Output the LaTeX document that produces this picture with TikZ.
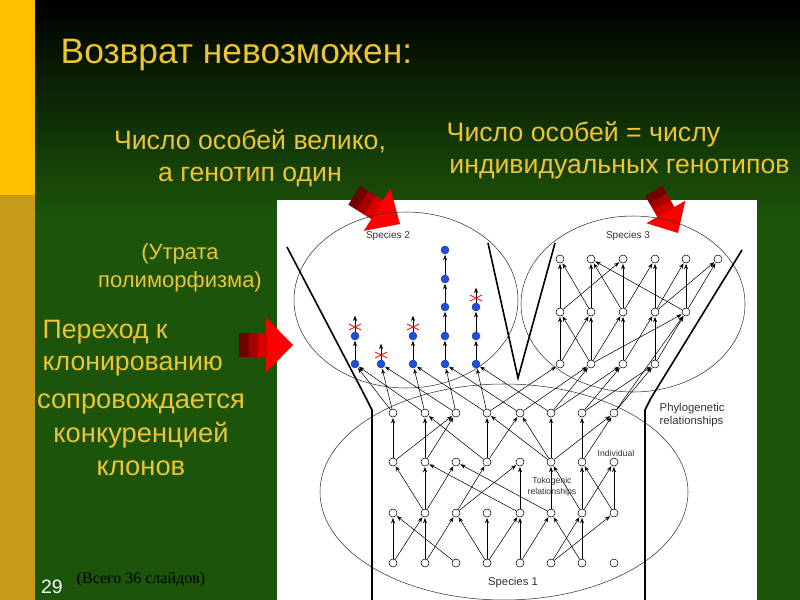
\documentclass[tikz,border=0pt]{standalone}
\usepackage{fontspec}
\setmainfont{Liberation Sans}
\newfontfamily\serifr{Liberation Serif}
\usetikzlibrary{arrows.meta}
\definecolor{ylw}{RGB}{236,196,52}
\definecolor{grn}{RGB}{28,84,10}
\definecolor{strip}{RGB}{255,192,0}
\definecolor{gold}{RGB}{200,155,25}
\definecolor{blu}{RGB}{30,80,220}
\tikzset{
 ind/.style={circle,draw=black,line width=0.4pt,fill=white,inner sep=0pt,minimum size=6pt},
 bind/.style={circle,draw=blu!60!black,line width=0.3pt,fill=blu,inner sep=0pt,minimum size=6pt},
 ed/.style={-{Stealth[length=4pt,width=3pt]},line width=0.4pt,shorten >=0.5pt},
 thick line/.style={line width=1.2pt},
 slide/.style={text=ylw,font=\fontsize{20}{24}\selectfont,align=center},
 lab/.style={font=\fontsize{7.5}{9}\selectfont,text=black!80},
 xm/.style={red,line width=0.6pt}
}
\newcommand{\redarrow}{%
 \fill[red] (0,0) -- (27,-25) -- (27,25) -- cycle;
 \fill[red!85!black] (26.5,-11) rectangle (36,11);
 \fill[red!65!black] (35.5,-11) rectangle (45,11);
 \fill[red!45!black] (44.5,-11) rectangle (54,11);
}
\begin{document}
\begin{tikzpicture}[x=0.75pt,y=-0.75pt]
\useasboundingbox (0,0) rectangle (800,600);
% background
\fill[grn] (0,0) rectangle (800,600);
\shade[top color=black,bottom color=grn] (35,0) rectangle (800,215);
\fill[strip] (0,0) rectangle (35,195);
\fill[gold] (0,195) rectangle (35,600);
\fill[white] (277,200) rectangle (757,600);
% texts
\node[anchor=west,text=ylw,font=\fontsize{26.5}{30}\selectfont] (title) at (56,55) {Возврат невозможен:};
\node[slide] (t1) at (250,158) {Число особей велико,\\а генотип один};
\node[slide,align=left,anchor=west] (t2) at (442,150) {Число особей = числу\\\hspace*{2pt}индивидуальных генотипов};
\node[slide,font=\fontsize{16.5}{21}\selectfont] (t3) at (180,268) {(Утрата\\полиморфизма)};
\node[slide,align=left,anchor=west] (t4) at (38,348) {Переход к\\клонированию};
\node[slide,font=\fontsize{20.5}{25}\selectfont] (t5) at (141,435) {сопровождается\\конкуренцией\\клонов};
\node[text=white,font=\fontsize{14.5}{16}\selectfont] (num) at (52,587) {29};
\node[font=\serifr\fontsize{12}{14}\selectfont,text=black] (tot) at (141,580) {(Всего 36 слайдов)};
% red arrows
\begin{scope}[shift={(293,345)},rotate=180,yscale=1.1]\redarrow\end{scope}
\begin{scope}[shift={(400,224)},rotate=148]\redarrow\end{scope}
\begin{scope}[shift={(678,233)},rotate=120,scale=0.9]\redarrow\end{scope}
% ellipses
\draw[line width=0.4pt,black!80] (406,300) ellipse (112 and 88);
\draw[line width=0.4pt,black!80] (633,304) ellipse (112 and 88);
\draw[line width=0.4pt,black!80] (504,492) ellipse (184 and 108);
% funnel lines
\draw[thick line] (287,247) -- (366,398) -- (372,410) -- (372,600);
\draw[thick line] (488,243) -- (518,378) -- (555,243);
\draw[thick line] (742,250) -- (651,398) -- (645,410) -- (645,600);
% labels
\node[lab] (s2) at (388,236) {Species 2};
\node[lab] (s3) at (628,236) {Species 3};
\node[lab,font=\fontsize{8.5}{10}\selectfont] (s1) at (513,583) {Species 1};
\node[lab,align=left,anchor=west,font=\fontsize{8.5}{10}\selectfont] (ph) at (655,415) {Phylogenetic\\relationships};
\node[lab,font=\fontsize{6.5}{8}\selectfont] (iv) at (616,453) {Individual};
\node[lab,font=\fontsize{6.5}{8}\selectfont,align=center] (tk) at (552,487) {Tokogenic\\relationships};
% species 1 nodes
\foreach \x [count=\i] in {393,425,456,487,520,551,582,614}{
 \node[ind] (a\i) at (\x,563) {};
 \node[ind] (b\i) at (\x,513) {};
 \node[ind] (c\i) at (\x,462) {};
 \node[ind] (d\i) at (\x,413) {};
}
% species 3 nodes
\foreach \x [count=\i] in {560,591,623,655,686,718}{ \node[ind] (u\i) at (\x,259) {}; }
\foreach \x [count=\i] in {560,591,623,655,686}{ \node[ind] (m\i) at (\x,312) {}; }
\foreach \x [count=\i] in {560,591,623,655}{ \node[ind] (l\i) at (\x,364) {}; }
% species 2 nodes
\foreach \x [count=\i] in {355,381,413,445,476}{ \node[bind] (p\i) at (\x,364) {}; }
\node[bind] (q1) at (355,336) {};
\node[bind] (q3) at (413,336) {};
\node[bind] (q4) at (445,336) {};
\node[bind] (q5) at (476,336) {};
\node[bind] (r4) at (445,307) {};
\node[bind] (r5) at (476,307) {};
\node[bind] (v4) at (445,279) {};
\node[bind] (w4) at (445,250) {};
\coordinate (e1) at (355,315);
\coordinate (e2) at (381,343);
\coordinate (e3) at (413,315);
\coordinate (e5) at (476,287);
% species 2 edges
\foreach \s/\t in {p1/q1,q1/e1,p2/e2,p3/q3,q3/e3,p4/q4,q4/r4,r4/v4,v4/w4,p5/q5,q5/r5,r5/e5}
 \draw[ed] (\s) -- (\t);
\foreach \x/\y in {355/327,381/355,413/327,476/298}
 \draw[xm] (\x-6,\y-3) -- (\x+6,\y+3) (\x-6,\y+3) -- (\x+6,\y-3);
% species 1 edges
\foreach \s/\t in {a1/b1,a1/b2,a3/b1,a2/b2,a2/b3,a4/b3,a4/b4,a4/b5,a5/b5,a5/b6,a6/b7,a6/b8,a7/b6,a7/b7,
 b2/c1,b2/c2,b2/c3,b3/c4,b3/c5,b5/c2,b6/c3,b6/c6,b5/c5,b7/c6,b7/c7,b7/c8,b8/c7,b8/c8,
 c1/d1,c1/d3,c2/d2,c2/d3,c4/d2,c4/d4,c4/d5,c6/d4,c6/d5,c6/d6,c6/d8,c7/d7,c7/d8,
 d1/p1,d2/p1,d1/p2,d3/p2,d2/p3,d4/p3,d3/p4,d5/p4,d4/p5,d6/p5,d4/l1,d5/l2,d6/l2,d6/l3,d7/l3,d7/l4,d8/l4,d8/m5}
 \draw[ed] (\s) -- (\t);
% species 3 edges
\foreach \s/\t in {l1/m1,l1/m2,l2/m1,l2/m2,l2/m3,l2/m5,l3/m3,l3/m4,l4/m4,l4/m5,
 m1/u1,m1/u3,m2/u1,m2/u2,m3/u2,m3/u3,m3/u4,m4/u4,m4/u5,m4/u6,m5/u2,m5/u5,m5/u6}
 \draw[ed] (\s) -- (\t);
\end{tikzpicture}
\end{document}
